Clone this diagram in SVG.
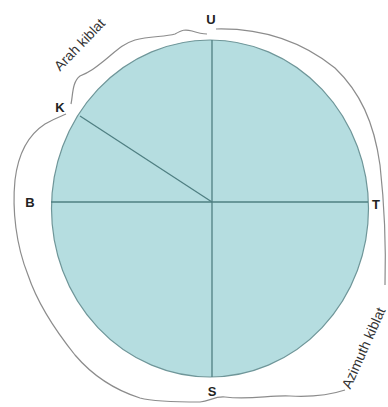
<svg xmlns="http://www.w3.org/2000/svg" width="388" height="407" viewBox="0 0 388 407">
<style>
.lbl{font-family:"Liberation Sans",Arial,sans-serif;font-weight:bold;font-size:13px;fill:#222;text-anchor:middle}
.arc{font-family:"Liberation Sans",Arial,sans-serif;font-size:14px;fill:#333;text-anchor:middle}
.ln{stroke:#4f7f82;stroke-width:1.3;fill:none}
.outer{stroke:#8c8c8c;stroke-width:1.2;fill:none}
</style>
<rect width="388" height="407" fill="#ffffff"/>
<g id="circle">
<ellipse cx="210" cy="208.5" rx="158.5" ry="168.5" fill="#b5dde0" stroke="#6f9699" stroke-width="1.2"/>
</g>
<g id="connectors">
<line class="ln" x1="212" y1="40" x2="212" y2="377"/>
<line class="ln" x1="51" y1="202" x2="368" y2="202"/>
<line class="ln" x1="80" y1="116" x2="212" y2="202"/>
</g>
<g id="outline">
<path class="outer" d="M216,29 C260,28 300,40 335,68 C360,92 374,122 380,165 C385,210 386,250 385,285"/>
<path class="outer" d="M345,390 C330,395 310,397 290,396 C270,395 250,400 225,397 C215,396 210,401 200,402 C180,402 155,402 140,398 C115,390 92,375 75,355 C55,330 38,305 28,275 C16,245 12,210 15,180 C18,155 28,135 45,124 C55,118 62,116 66,114"/>
<path class="outer" d="M71,104 C73,95 72,82 80,76 C90,72 95,68 105,60 C115,52 122,44 135,40 C150,36 165,37 175,34 C182,30 185,29 192,31 C198,33 202,34 207,34"/>
</g>
<g id="labels">
<text class="lbl" x="211" y="24">U</text>
<text class="lbl" x="60" y="112">K</text>
<text class="lbl" x="30" y="207">B</text>
<text class="lbl" x="376" y="209">T</text>
<text class="lbl" x="212" y="396">S</text>
<text class="arc" transform="translate(83,48) rotate(-46)">Arah kiblat</text>
<text class="arc" transform="translate(368,350) rotate(-66)">Azimuth kiblat</text>
</g>
</svg>
